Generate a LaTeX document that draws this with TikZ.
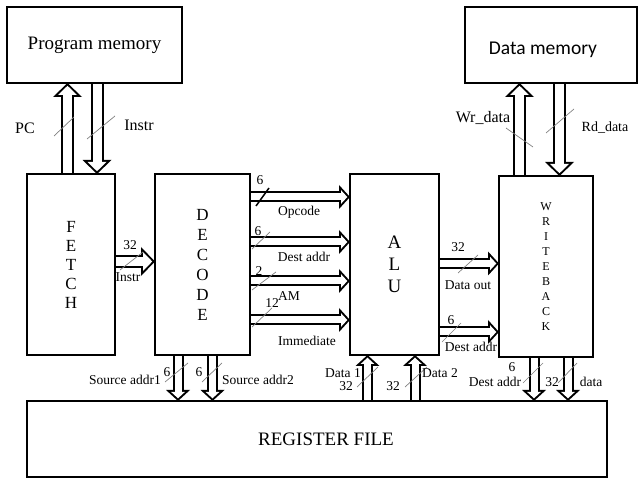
\documentclass[tikz,border=0pt]{standalone}
\usepackage{fontspec}
\setmainfont{Liberation Serif}
\newfontfamily\calibrifont{Carlito}
\usepackage{tikz}
\usetikzlibrary{positioning, arrows.meta, backgrounds}

\begin{document}
\begin{tikzpicture}[
        x=1pt, y=-1pt,
        font=\fontsize{13.5}{15}\selectfont,
        block/.style={draw, line width=1.8pt, anchor=north west, inner sep=0pt, outer sep=0pt, align=center},
        busL/.style={line width=13pt, -{Triangle[width=29pt, length=14pt, line width=0pt]},
            postaction={draw=white, line width=9pt, shorten >=2.8pt, -{Triangle[width=19pt, length=9.2pt, line width=0pt]}}},
        busS/.style={line width=11pt, -{Triangle[width=24pt, length=11pt, line width=0pt]},
            postaction={draw=white, line width=7pt, shorten >=2.7pt, -{Triangle[width=13.7pt, length=6.3pt, line width=0pt]}}},
        width/.style={draw=gray, line width=0.7pt},
        lbl/.style={inner sep=0pt},
        biglbl/.style={inner sep=0pt, font=\fontsize{16}{18}\selectfont},
        node distance=5pt,
    ]
    \useasboundingbox (0,0) rectangle (638,478);

    % Memories
    \node[block, minimum width=175pt, minimum height=76pt, font=\fontsize{19}{21}\selectfont] (pmem) at (7,7) {Program memory};
    \node[block, minimum width=172pt, minimum height=76pt] (dmem) at (465,7) {};
    \node[lbl, font=\calibrifont\fontsize{19.5}{21}\selectfont] (dmemtext) at (543,50) {Data memory};

    % Pipeline stages
    \node[block, minimum width=88pt, minimum height=181pt, font=\fontsize{17}{19}\selectfont] (fetch) at (27,174) {F\\E\\T\\C\\H};
    \node[block, minimum width=95pt, minimum height=181pt, font=\fontsize{17}{20}\selectfont] (decode) at (155,174) {D\\E\\C\\O\\D\\E};
    \node[block, minimum width=89pt, minimum height=181pt, font=\fontsize{19}{22}\selectfont] (alu) at (350,174) {A\\L\\U};
    \node[block, minimum width=94pt, minimum height=181pt, font=\fontsize{12}{14.9}\selectfont] (wb) at (499,176) {W\\R\\I\\T\\E\\B\\A\\C\\K};

    % Register file
    \node[block, minimum width=580pt, minimum height=76pt, font=\fontsize{19}{21}\selectfont] (regf) at (27,401) {\hspace*{18pt}REGISTER FILE};

    % Buses
    \begin{scope}[on background layer]
        \draw[busL] (67.5,0 |- fetch.north) -- (67.5,0 |- pmem.south);
        \draw[busL] (97,0 |- pmem.south) -- (97,0 |- fetch.north);
        \draw[busL] (519.5,0 |- wb.north) -- (519.5,0 |- dmem.south);
        \draw[busL] (559.5,0 |- dmem.south) -- (559.5,0 |- wb.north);
        \draw[busL] (fetch.east |- 0,261.5) -- (decode.west |- 0,261.5);
        \foreach \y in {197,242,281,320}
            \draw[busS] (decode.east |- 0,\y) -- (alu.west |- 0,\y);
        \draw[busS] (alu.east |- 0,263.5) -- (wb.west |- 0,263.5);
        \draw[busS] (alu.east |- 0,332) -- (wb.west |- 0,332);
        \foreach \x in {178,212.5}
            \draw[busS] (\x,0 |- decode.south) -- (\x,0 |- regf.north);
        \foreach \x in {534,568}
            \draw[busS] (\x,0 |- wb.south) -- (\x,0 |- regf.north);
        \foreach \x in {367.5,415}
            \draw[busS] (\x,0 |- regf.north) -- (\x,0 |- alu.south);
    \end{scope}

    % Bus widths
    \draw[width] (54,136) -- (74,117);
    \draw[width] (87,139) -- (115,116);
    \draw[width] (506,128) -- (533,147);
    \draw[width] (546,133) -- (574,109);
    \draw[width] (120,270) -- (143,252);
    \draw[line width=1.5pt] (256,206) -- (269,188);
    \draw[width] (252,249) -- (270,232);
    \draw[width] (252,290) -- (276,272);
    \draw[width] (252,327) -- (272,308);
    \draw[width] (458,273) -- (478,255);
    \draw[width] (442,342) -- (461,323);
    \draw[width] (165,382) -- (188,363);
    \draw[width] (202,382) -- (222,363);
    \draw[width] (357,387) -- (378,367);
    \draw[width] (405,387) -- (427,367);
    \draw[width] (523,383) -- (543,363);
    \draw[width] (558,383) -- (577,363);

    % Labels
    \node[biglbl] (pc) at (25,128) {PC};
    \node[biglbl] (instr) at (139,125) {Instr};
    \node[biglbl] (wrdata) at (483,118) {Wr\_data};
    \node[lbl, font=\fontsize{14}{16}\selectfont] (rddata) at (605,128) {Rd\_data};
    \node[lbl] (instrw) at (130,245) {32};
    \node[lbl] (instrb) at (128,277) {Instr};
    \node[lbl] (opw) at (260,180) {6};
    \node[lbl] (opcode) at (299,212) {Opcode};
    \node[lbl] (destw) at (258,231) {6};
    \node[lbl] (dest) at (304,257) {Dest addr};
    \node[lbl] (amw) at (259,271) {2};
    \node[lbl] (am) at (289,296) {AM};
    \node[lbl] (immw) at (272,303) {12};
    \node[lbl] (imm) at (307,341) {Immediate};
    \node[lbl] (outw) at (458,247) {32};
    \node[lbl] (dataout) at (468,285) {Data out};
    \node[lbl] (aludw) at (451,320) {6};
    \node[lbl] (aludest) at (471,347) {Dest addr};
    \node[lbl] (src1) at (125,380) {Source addr1};
    \node[lbl] (src1w) at (167,372) {6};
    \node[lbl] (src2w) at (199,372) {6};
    \node[lbl] (src2) at (258,380) {Source addr2};
    \node[lbl] (data1) at (343,373) {Data 1};
    \node[lbl] (data1w) at (346,386) {32};
    \node[lbl] (data2w) at (393,386) {32};
    \node[lbl] (data2) at (440,373) {Data 2};
    \node[lbl] (wbdw) at (512,367) {6};
    \node[lbl] (wbdest) at (495,382) {Dest addr};
    \node[lbl] (wbdataw) at (552,382) {32};
    \node[lbl] (wbdata) at (591,382) {data};
\end{tikzpicture}
\end{document}
